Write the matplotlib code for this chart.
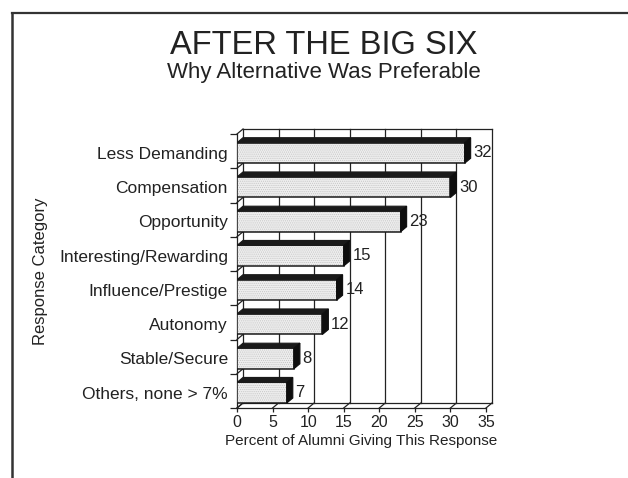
import matplotlib
matplotlib.use("Agg")
import matplotlib.pyplot as plt
from matplotlib.patches import Polygon
from matplotlib.lines import Line2D

plt.rcParams['font.family'] = ['Liberation Sans', 'DejaVu Sans']
plt.rcParams['hatch.linewidth'] = 0.5

ink = "#222222"
face = "#eeeeee"
dark = "#1a1a1a"

# Survey results
categories = [
    "Less Demanding", "Compensation", "Opportunity", "Interesting/Rewarding",
    "Influence/Prestige", "Autonomy", "Stable/Secure", "Others, none > 7%",
]
values = [32, 30, 23, 15, 14, 12, 8, 7]
xticks = [0, 5, 10, 15, 20, 25, 30, 35]

W, H = 628, 478
fig = plt.figure(figsize=(W / 100, H / 100), dpi=100)
fig.patch.set_facecolor("white")

# axes box = front plane of the pseudo-3D chart (pixel placement)
left, right, top, bottom = 237, 486, 134, 408
ax = fig.add_axes([left / W, 1 - bottom / H, (right - left) / W, (bottom - top) / H])
n = len(categories)
ax.set_xlim(0, 35)
ax.set_ylim(0, n)
ax.set_facecolor("none")

# depth of the fake 3D, in data units
dx = 6 / ((right - left) / 35)
dy = 5 / ((bottom - top) / n)

slot = [n - 1 - i for i in range(n)]          # bottom edge of each category slot
bar_h = 0.6
bar_b = [s + 0.146 for s in slot]
centers = [b + bar_h / 2 for b in bar_b]

lk = dict(color=ink, lw=0.9, clip_on=False, zorder=1)

# back wall: outline and vertical gridlines
ax.plot([dx, dx], [dy, n + dy], **lk)
ax.plot([dx, 35 + dx], [n + dy, n + dy], **lk)
for v in xticks[1:]:
    ax.plot([v + dx, v + dx], [dy, n + dy], **lk)

# floor: back edge and diagonals at each tick
ax.plot([dx, 35 + dx], [dy, dy], **lk)
for v in xticks:
    ax.plot([v, v + dx], [0, dy], **lk)

# left side: diagonals at each category boundary
for k in range(n + 1):
    ax.plot([0, dx], [k, k + dy], **lk)

# bars: front face, top face, right face
ax.barh(centers, values, height=bar_h, left=0, color=face, edgecolor="#c4c4c4",
        hatch="........", linewidth=0, zorder=3)
ax.barh(centers, values, height=bar_h, left=0, fill=False, edgecolor=dark,
        linewidth=1.1, zorder=4)
for b, v in zip(bar_b, values):
    t = b + bar_h
    ax.add_patch(Polygon([(0, t), (v, t), (v + dx, t + dy), (dx, t + dy)],
                         closed=True, facecolor=dark, edgecolor=dark, lw=0.8, zorder=4))
    ax.add_patch(Polygon([(v, b), (v, t), (v + dx, t + dy), (v + dx, b + dy)],
                         closed=True, facecolor="#0e0e0e", edgecolor="#0e0e0e", lw=0.8, zorder=4))
    ax.annotate(f"{v}", (v + dx, b + bar_h / 2), xytext=(2, 0), textcoords="offset points",
                ha="left", va="center", fontsize=12, color=ink, zorder=5)

# axes, ticks and labels
for s in ["top", "right"]:
    ax.spines[s].set_visible(False)
for s in ["left", "bottom"]:
    ax.spines[s].set_color(ink)
    ax.spines[s].set_linewidth(0.9)
    ax.spines[s].set_zorder(2)

ax.set_xticks(xticks)
ax.set_xticklabels([str(v) for v in xticks], fontsize=11.5, color=ink)
ax.tick_params(axis="x", length=3, width=0.9, color=ink, pad=2)

ax.set_yticks(range(n + 1))
ax.set_yticklabels([])
ax.tick_params(axis="y", which="major", length=5, width=0.9, color=ink)
ax.set_yticks(centers, minor=True)
ax.set_yticklabels(categories, minor=True, fontsize=12.5, color=ink)
ax.tick_params(axis="y", which="minor", length=0, pad=6.5)

ax.set_xlabel("Percent of Alumni Giving This Response", fontsize=11, color=ink, labelpad=3)
ax.set_ylabel("Response Category", fontsize=12, color=ink, labelpad=8)

# titles
fig.text(324 / W, 1 - 54 / H, "AFTER THE BIG SIX", ha="center", va="baseline",
         fontsize=23.5, color=ink)
fig.text(324 / W, 1 - 78 / H, "Why Alternative Was Preferable", ha="center", va="baseline",
         fontsize=16, color=ink)

# page frame
fig.add_artist(Line2D([12 / W, 1], [1 - 13 / H, 1 - 13 / H], transform=fig.transFigure,
                      color="#333333", lw=1.6))
fig.add_artist(Line2D([12 / W, 12 / W], [0, 1 - 13 / H], transform=fig.transFigure,
                      color="#333333", lw=1.8))

fig.savefig("out.png", dpi=100, facecolor="white")
